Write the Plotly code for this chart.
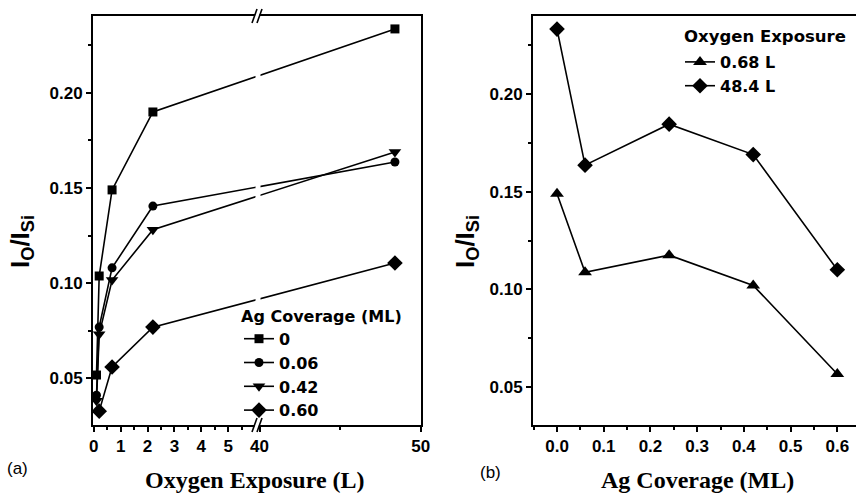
import plotly.graph_objects as go

# ---------------- data ----------------
exposure_L = [0.1, 0.2, 0.68, 2.2, 48.4]
cov_0 = [0.0516, 0.1037, 0.149, 0.190, 0.2337]
cov_006 = [0.041, 0.0768, 0.108, 0.1405, 0.1637]
cov_042 = [0.038, 0.073, 0.1016, 0.128, 0.169]
exposure_060 = [0.2, 0.68, 2.2, 48.4]
cov_060 = [0.0326, 0.0558, 0.0768, 0.1105]

left_names = ["0", "0.06", "0.42", "0.60"]
left_ticks = [0, 1, 2, 3, 4, 5, 40, 50]
left_minor = [0.5, 1.5, 2.5, 3.5, 4.5, 5.5, 45]

ag_cov = [0.0, 0.06, 0.24, 0.42, 0.6]
exp_068 = [0.149, 0.1087, 0.1175, 0.102, 0.0566]
exp_484 = [0.2333, 0.1636, 0.1846, 0.169, 0.110]
right_names = ["0.68 L", "48.4 L"]

W, H = 856, 496

# broken axis transform (0..6.1 | 40..50)
BRK = 6.1
def brk(x):
    return x if x <= BRK else BRK + 0.07 + (x - 40) * 0.6

def px(x):
    return x / W

def py(y):
    return 1 - y / H

fig = go.Figure()

sans = "Liberation Sans, Arial, sans-serif"
wide = "DejaVu Sans, Verdana, sans-serif"
serif = "Liberation Serif, Times New Roman, serif"

markers = [("square", 9), ("circle", 9), ("triangle-down", 11), ("diamond", 12)]
series = [(exposure_L, cov_0), (exposure_L, cov_006), (exposure_L, cov_042), (exposure_060, cov_060)]
for (xs, ys), (sym, sz), name in zip(series, markers, left_names):
    fig.add_trace(go.Scatter(
        x=[brk(v) for v in xs], y=ys, mode="lines+markers", name=name,
        line=dict(color="black", width=1.6),
        marker=dict(symbol=sym, size=sz, color="black"),
        xaxis="x", yaxis="y", legend="legend"))

for ys, (sym, sz), name in zip([exp_068, exp_484], [("triangle-up", 12), ("diamond", 12)], right_names):
    fig.add_trace(go.Scatter(
        x=ag_cov, y=ys, mode="lines+markers", name=name,
        line=dict(color="black", width=1.6),
        marker=dict(symbol=sym, size=sz, color="black"),
        xaxis="x2", yaxis="y2", legend="legend2"))

tickfont = dict(family=sans, size=17, color="black", weight="bold")
ydom = [py(425), py(16)]

axis_common = dict(showline=True, linecolor="black", linewidth=2, ticks="outside",
                   ticklen=5, tickwidth=1.5, tickcolor="black", showgrid=False,
                   zeroline=False, tickfont=tickfont)

legfont = dict(family=wide, size=16, weight="bold", color="black")

fig.update_layout(
    width=W, height=H, autosize=False, margin=dict(l=0, r=0, t=0, b=0, autoexpand=False),
    paper_bgcolor="white", plot_bgcolor="white",
    font=dict(family=sans, color="black"),
    xaxis=dict(axis_common, domain=[px(93), px(421)], range=[-0.03, brk(50) + 0.01],
               tickmode="array", tickvals=[brk(v) for v in left_ticks],
               ticktext=[str(v) for v in left_ticks], mirror=True,
               minor=dict(tickmode="array", tickvals=[brk(v) for v in left_minor],
                          ticks="outside", ticklen=3, tickwidth=1.5, tickcolor="black"),
               anchor="y"),
    yaxis=dict(axis_common, domain=ydom, range=[0.0253, 0.2405], dtick=0.05, tick0=0,
               tickformat=".2f", mirror=True,
               minor=dict(dtick=0.025, tick0=0, ticks="outside", ticklen=3, tickwidth=1.5,
                          tickcolor="black"),
               anchor="x"),
    xaxis2=dict(axis_common, domain=[px(533), 1.0], range=[-0.0514, 0.64], dtick=0.1, tick0=0,
                tickformat=".1f", mirror=True,
                minor=dict(dtick=0.05, tick0=0, ticks="outside", ticklen=3, tickwidth=1.5,
                           tickcolor="black"),
                anchor="y2"),
    yaxis2=dict(axis_common, domain=ydom, range=[0.0305, 0.240], dtick=0.05, tick0=0,
                tickformat=".2f",
                minor=dict(dtick=0.025, tick0=0, ticks="outside", ticklen=3, tickwidth=1.5,
                           tickcolor="black"),
                anchor="x2"),
    legend=dict(x=px(239), y=py(301), xanchor="left", yanchor="top",
                bgcolor="rgba(0,0,0,0)", itemwidth=30, tracegroupgap=0,
                title=dict(text="Ag Coverage (ML)", font=legfont),
                font=legfont),
    legend2=dict(x=px(680), y=py(45), xanchor="left", yanchor="top",
                 bgcolor="rgba(0,0,0,0)", itemwidth=30, tracegroupgap=0,
                 font=legfont),
    showlegend=True,
)

ytitle = "I<sub>O</sub>/I<sub>Si</sub>"
annos = [
    dict(text=ytitle, x=px(21), y=py(242), textangle=-90, xanchor="center",
         font=dict(family=sans, size=26, weight="bold", color="black")),
    dict(text=ytitle, x=px(466), y=py(242), textangle=-90, xanchor="center",
         font=dict(family=sans, size=26, weight="bold", color="black")),
    dict(text="Oxygen Exposure (L)", x=px(255), y=py(480), xanchor="center",
         font=dict(family=serif, size=24, weight="bold", color="black")),
    dict(text="Ag Coverage (ML)", x=px(697), y=py(480), xanchor="center",
         font=dict(family=serif, size=24, weight="bold", color="black")),
    dict(text="(a)", x=px(17), y=py(468), xanchor="center",
         font=dict(family=sans, size=17, color="black")),
    dict(text="(b)", x=px(490), y=py(472), xanchor="center",
         font=dict(family=sans, size=17, color="black")),
    dict(text="Oxygen Exposure", x=px(682), y=py(37), xanchor="left",
         font=dict(family=wide, size=16.5, weight="bold", color="black")),
]
for a in annos:
    fig.add_annotation(xref="paper", yref="paper", showarrow=False,
                       yanchor="middle", **a)

# axis break decoration: white gap + // marks
shapes = [dict(type="rect", x0=px(255.5), x1=px(260.5), y0=py(423), y1=py(18),
               fillcolor="white", line=dict(width=0), layer="above")]
for yc in (16, 425):
    shapes.append(dict(type="path",
                       path=f"M {px(253)},{py(yc+7)} L {px(257)},{py(yc-7)} L {px(261)},{py(yc-7)} L {px(257)},{py(yc+7)} Z",
                       fillcolor="white", line=dict(width=0), layer="above"))
    for dx in (0, 5):
        shapes.append(dict(type="line", x0=px(252 + dx), y0=py(yc + 7), x1=px(257 + dx), y1=py(yc - 7),
                           line=dict(color="black", width=1.6), layer="above"))
for s in shapes:
    fig.add_shape(xref="paper", yref="paper", **s)

html = fig.to_html(config={"displayModeBar": False, "responsive": False},
                   default_width="856px", default_height="496px")
html = html.replace("<head>", "<head><style>html,body{margin:0;padding:0;overflow:hidden;}</style>", 1)
with open("out.html", "w", encoding="utf-8") as f:
    f.write(html)
